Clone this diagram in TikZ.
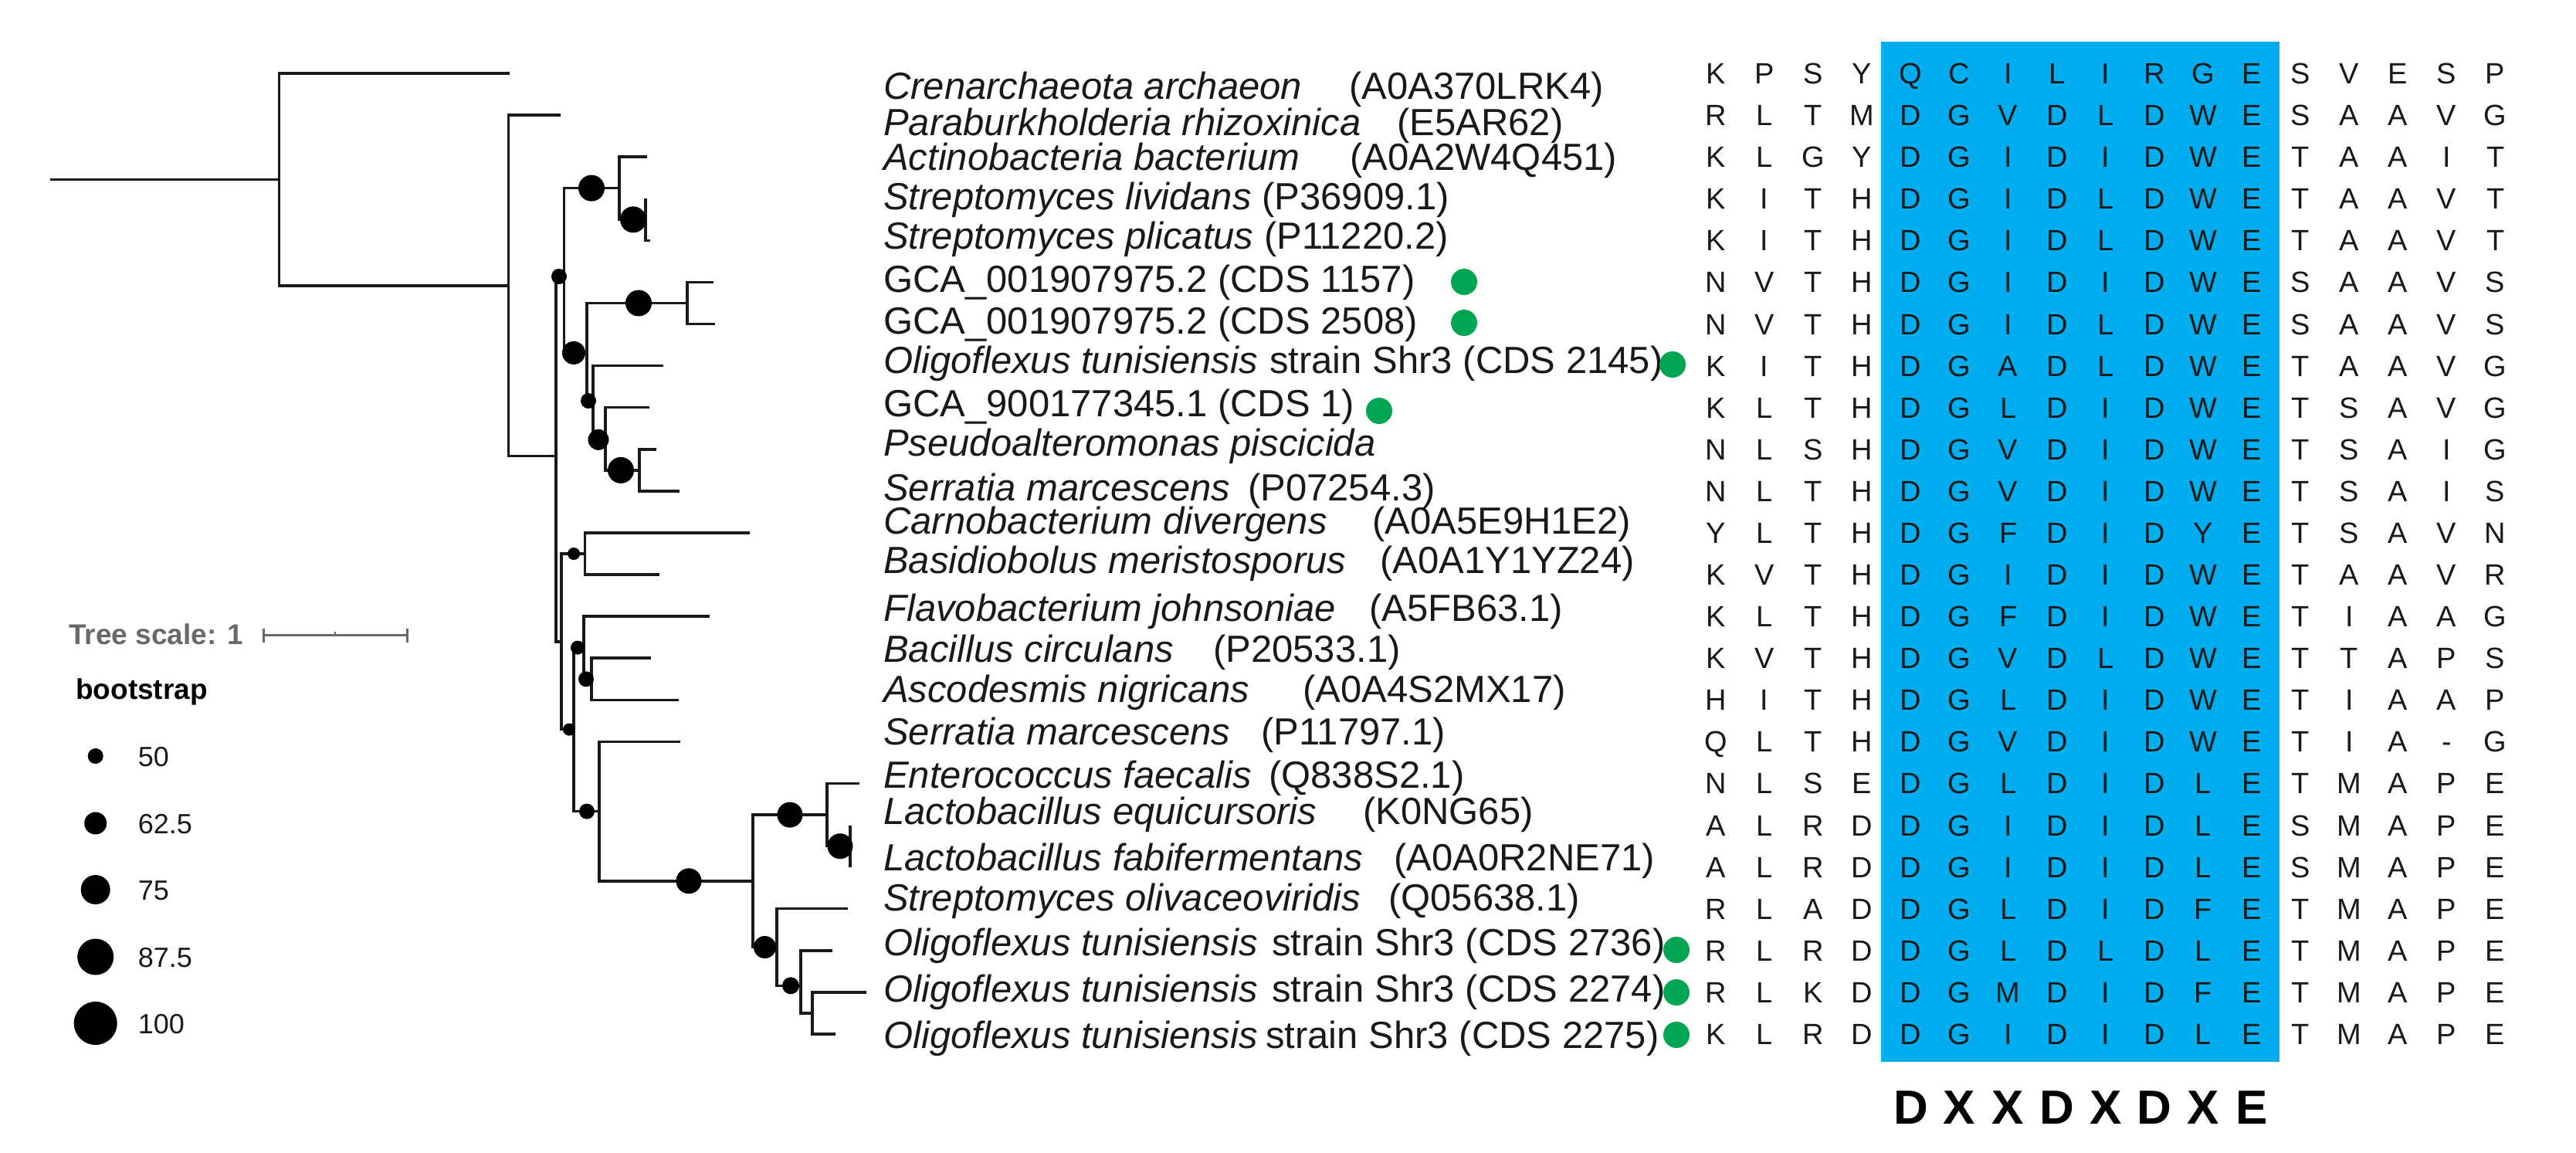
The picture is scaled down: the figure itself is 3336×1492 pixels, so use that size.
\documentclass[tikz,border=0pt]{standalone}
\usepackage{fontspec}
\setmainfont{Liberation Sans}
\definecolor{motifblue}{RGB}{0,174,239}
\definecolor{mkgreen}{RGB}{0,166,81}
\definecolor{scalegray}{RGB}{105,105,105}
\definecolor{treeblack}{RGB}{25,25,25}
\begin{document}
\begin{tikzpicture}[x=1pt,y=-1pt,
  tree/.style={draw=treeblack,line width=3.5pt},
  lab/.style={anchor=base west,inner sep=0pt,font=\fontsize{49}{55}\selectfont,text=treeblack},
  aa/.style={anchor=base,inner sep=0pt,font=\fontsize{38}{44}\selectfont,text=treeblack},
  motif/.style={anchor=base,inner sep=0pt,font=\fontsize{62}{66}\selectfont\bfseries,text=black},
  bs/.style={circle,fill=black,inner sep=0pt,draw=none},
  gdot/.style={circle,fill=mkgreen,inner sep=0pt,draw=none,minimum size=34pt},
  leg/.style={anchor=base west,inner sep=0pt,font=\fontsize{36}{40}\selectfont,text=treeblack}]
\useasboundingbox (0,0) rectangle (3336,1492);
\fill[white] (0,0) rectangle (3336,1492);

% ---------------- blue motif block
\fill[motifblue] (2436,54) rectangle (2952,1375);

% ---------------- tree coordinates (leaves)
\coordinate (L1) at (660,95);
\coordinate (L2) at (726,149.1);
\coordinate (L3) at (838,203.2);
\coordinate (L4) at (836,257.3);
\coordinate (L5) at (842,311.3);
\coordinate (L6) at (924,365.4);
\coordinate (L7) at (926,419.5);
\coordinate (L8) at (859,473.6);
\coordinate (L9) at (841,527.7);
\coordinate (L10) at (850,581.8);
\coordinate (L11) at (880,635.9);
\coordinate (L12) at (971,690.0);
\coordinate (L13) at (854,744.0);
\coordinate (L14) at (919,798.1);
\coordinate (L15) at (843,852.2);
\coordinate (L16) at (879,906.3);
\coordinate (L17) at (881,960.4);
\coordinate (L18) at (1113,1014.5);
\coordinate (L19) at (1101,1068.6);
\coordinate (L20) at (1101,1122.7);
\coordinate (L21) at (1098,1176.7);
\coordinate (L22) at (1078,1230.8);
\coordinate (L23) at (1122,1284.9);
\coordinate (L24) at (1082,1339.0);
% internal nodes
\coordinate (root) at (64.5,232.4);
\coordinate (R) at (361.6,232.4);
\coordinate (N1) at (658.6,369.8);
\coordinate (N2) at (720,590.5);
\coordinate (N3) at (730.7,350.3);
\coordinate (N5) at (802,243.6);
\coordinate (N7) at (836,284.3);
\coordinate (N6) at (760,456.9);
\coordinate (N8) at (890,392.5);
\coordinate (N9) at (768,521.4);
\coordinate (N10) at (784,569.3);
\coordinate (N11) at (828,608.9);
\coordinate (N4) at (727,830.8);
\coordinate (N12) at (757.5,717.0);
\coordinate (N13) at (743,944.6);
\coordinate (N14) at (756,838.6);
\coordinate (N16) at (766,879.3);
\coordinate (N15) at (776,1050.6);
\coordinate (N17) at (975,1140.8);
\coordinate (N18) at (1071,1055.1);
\coordinate (N20) at (1101,1095.7);
\coordinate (N19) at (1006,1226.5);
\coordinate (N21) at (1037,1276.3);
\coordinate (N22) at (1052,1312.0);

% ---------------- tree branches
\draw[tree] (root) -- (R);
\foreach \p/\c in {R/L1,R/N1,N1/L2,N1/N2,N2/N3,N2/N4,N3/N5,N3/N6,N5/L3,N5/N7,
  N7/L4,N7/L5,N6/N8,N6/N9,N8/L6,N8/L7,N9/L8,N9/N10,N10/L9,N10/N11,N11/L10,N11/L11,
  N4/N12,N4/N13,N12/L12,N12/L13,N13/N14,N13/N15,N14/L14,N14/N16,N16/L15,N16/L16,
  N15/L17,N15/N17,N17/N18,N17/N19,N18/L18,N18/N20,N20/L19,N20/L20,N19/L21,N19/N21,
  N21/L22,N21/N22,N22/L23,N22/L24}
  \draw[tree] (\p) |- (\c);

% ---------------- bootstrap dots
\node[bs,minimum size=20pt] (b3) at (724,358) {};
\node[bs,minimum size=34pt] (b5) at (766,243.6) {};
\node[bs,minimum size=34pt] (b7) at (820,284.3) {};
\node[bs,minimum size=30pt] (b6) at (743,456.9) {};
\node[bs,minimum size=34pt] (b8) at (827,392.5) {};
\node[bs,minimum size=20pt] (b9) at (762,519) {};
\node[bs,minimum size=27pt] (b10) at (775,569.3) {};
\node[bs,minimum size=34pt] (b11) at (804,608.9) {};
\node[bs,minimum size=16pt] (b12) at (743,717.0) {};
\node[bs,minimum size=16pt] (b13) at (737,944.6) {};
\node[bs,minimum size=18pt] (b14) at (748,838.6) {};
\node[bs,minimum size=20pt] (b16) at (759,879.3) {};
\node[bs,minimum size=20pt] (b15) at (760,1050.6) {};
\node[bs,minimum size=33pt] (b17) at (892,1140.8) {};
\node[bs,minimum size=33pt] (b18) at (1023,1055.1) {};
\node[bs,minimum size=33pt] (b20) at (1088,1095.7) {};
\node[bs,minimum size=29pt] (b19) at (990.5,1226.5) {};
\node[bs,minimum size=22pt] (b21) at (1024,1276.3) {};

% ---------------- legend
\node[anchor=base west,inner sep=0pt,font=\fontsize{37}{40}\selectfont\bfseries,text=scalegray] (ts) at (89,834) {Tree scale: 1};
\coordinate (sb1) at (341.5,822.8);
\coordinate (sb2) at (527,822.8);
\coordinate (sbm) at (434,822.8);
\draw[scalegray,line width=3pt] (sb1) -- (sb2);
\draw[scalegray,line width=3pt] ([yshift=-9pt]sb1) -- ([yshift=9pt]sb1);
\draw[scalegray,line width=3pt] ([yshift=-9pt]sb2) -- ([yshift=9pt]sb2);
\draw[scalegray,line width=2pt] (sbm) -- ([yshift=5pt]sbm);
\node[anchor=base west,inner sep=0pt,font=\fontsize{37}{40}\selectfont\bfseries,text=black] (bt) at (98,905) {bootstrap};
\node[bs,minimum size=20pt] (lg1) at (123.7,979) {};
\node[bs,minimum size=29pt] (lg2) at (123.7,1066) {};
\node[bs,minimum size=38pt] (lg3) at (123.7,1152) {};
\node[bs,minimum size=47pt] (lg4) at (123.7,1239) {};
\node[bs,minimum size=56pt] (lg5) at (123.7,1325) {};
\node[leg] (lt1) at (178.6,992) {50};
\node[leg] (lt2) at (178.6,1079.5) {62.5};
\node[leg] (lt3) at (178.6,1165.6) {75};
\node[leg] (lt4) at (178.6,1252) {87.5};
\node[leg] (lt5) at (178.6,1338) {100};

% ---------------- taxon labels
\node[lab] (t1) at (1144,128) {\textit{Crenarchaeota archaeon}};
\node[lab] (c1) at (1747,128) {(A0A370LRK4)};
\node[lab] (t2) at (1144,175) {\textit{Paraburkholderia rhizoxinica}};
\node[lab] (c2) at (1809,175) {(E5AR62)};
\node[lab] (t3) at (1144,220) {\textit{Actinobacteria bacterium}};
\node[lab] (c3) at (1748,220) {(A0A2W4Q451)};
\node[lab] (t4) at (1144,271) {\textit{Streptomyces lividans} (P36909.1)};
\node[lab] (t5) at (1144,322) {\textit{Streptomyces plicatus} (P11220.2)};
\node[lab] (t6) at (1144,378) {GCA\_001907975.2 (CDS 1157)};
\node[lab] (t7) at (1144,432) {GCA\_001907975.2 (CDS 2508)};
\node[lab] (t8) at (1144,483) {\textit{Oligoflexus tunisiensis}};
\node[lab] (c8) at (1644,483) {strain Shr3 (CDS 2145)};
\node[lab] (t9) at (1144,539) {GCA\_900177345.1 (CDS 1)};
\node[lab] (t10) at (1144,590) {\textit{Pseudoalteromonas piscicida}};
\node[lab] (t11) at (1144,648) {\textit{Serratia marcescens}};
\node[lab] (c11) at (1616,648) {(P07254.3)};
\node[lab] (t12) at (1144,691) {\textit{Carnobacterium divergens}};
\node[lab] (c12) at (1777,691) {(A0A5E9H1E2)};
\node[lab] (t13) at (1144,742) {\textit{Basidiobolus meristosporus}};
\node[lab] (c13) at (1787,742) {(A0A1Y1YZ24)};
\node[lab] (t14) at (1144,804) {\textit{Flavobacterium johnsoniae}};
\node[lab] (c14) at (1773,804) {(A5FB63.1)};
\node[lab] (t15) at (1144,857) {\textit{Bacillus circulans}};
\node[lab] (c15) at (1571,857) {(P20533.1)};
\node[lab] (t16) at (1144,909) {\textit{Ascodesmis nigricans}};
\node[lab] (c16) at (1687,909) {(A0A4S2MX17)};
\node[lab] (t17) at (1144,964) {\textit{Serratia marcescens}};
\node[lab] (c17) at (1633,964) {(P11797.1)};
\node[lab] (t18) at (1144,1020) {\textit{Enterococcus faecalis}};
\node[lab] (c18) at (1643,1020) {(Q838S2.1)};
\node[lab] (t19) at (1144,1067) {\textit{Lactobacillus equicursoris}};
\node[lab] (c19) at (1765,1067) {(K0NG65)};
\node[lab] (t20) at (1144,1127) {\textit{Lactobacillus fabifermentans}};
\node[lab] (c20) at (1805,1127) {(A0A0R2NE71)};
\node[lab] (t21) at (1144,1179) {\textit{Streptomyces olivaceoviridis}};
\node[lab] (c21) at (1798,1179) {(Q05638.1)};
\node[lab] (t22) at (1144,1237) {\textit{Oligoflexus tunisiensis}};
\node[lab] (c22) at (1647,1237) {strain Shr3 (CDS 2736)};
\node[lab] (t23) at (1144,1297) {\textit{Oligoflexus tunisiensis}};
\node[lab] (c23) at (1647,1297) {strain Shr3 (CDS 2274)};
\node[lab] (t24) at (1144,1357) {\textit{Oligoflexus tunisiensis}};
\node[lab] (c24) at (1639,1357) {strain Shr3 (CDS 2275)};

% green markers
\node[gdot] (g6) at (1896,365) {};
\node[gdot] (g7) at (1896,418) {};
\node[gdot] (g8) at (2166,472) {};
\node[gdot] (g9) at (1786,532) {};
\node[gdot] (g22) at (2171,1230) {};
\node[gdot] (g23) at (2171,1285) {};
\node[gdot] (g24) at (2171,1340) {};

% ---------------- alignment
\foreach \rw [count=\i] in {
 {K,P,S,Y,Q,C,I,L,I,R,G,E,S,V,E,S,P},
 {R,L,T,M,D,G,V,D,L,D,W,E,S,A,A,V,G},
 {K,L,G,Y,D,G,I,D,I,D,W,E,T,A,A,I,T},
 {K,I,T,H,D,G,I,D,L,D,W,E,T,A,A,V,T},
 {K,I,T,H,D,G,I,D,L,D,W,E,T,A,A,V,T},
 {N,V,T,H,D,G,I,D,I,D,W,E,S,A,A,V,S},
 {N,V,T,H,D,G,I,D,L,D,W,E,S,A,A,V,S},
 {K,I,T,H,D,G,A,D,L,D,W,E,T,A,A,V,G},
 {K,L,T,H,D,G,L,D,I,D,W,E,T,S,A,V,G},
 {N,L,S,H,D,G,V,D,I,D,W,E,T,S,A,I,G},
 {N,L,T,H,D,G,V,D,I,D,W,E,T,S,A,I,S},
 {Y,L,T,H,D,G,F,D,I,D,Y,E,T,S,A,V,N},
 {K,V,T,H,D,G,I,D,I,D,W,E,T,A,A,V,R},
 {K,L,T,H,D,G,F,D,I,D,W,E,T,I,A,A,G},
 {K,V,T,H,D,G,V,D,L,D,W,E,T,T,A,P,S},
 {H,I,T,H,D,G,L,D,I,D,W,E,T,I,A,A,P},
 {Q,L,T,H,D,G,V,D,I,D,W,E,T,I,A,-,G},
 {N,L,S,E,D,G,L,D,I,D,L,E,T,M,A,P,E},
 {A,L,R,D,D,G,I,D,I,D,L,E,S,M,A,P,E},
 {A,L,R,D,D,G,I,D,I,D,L,E,S,M,A,P,E},
 {R,L,A,D,D,G,L,D,I,D,F,E,T,M,A,P,E},
 {R,L,R,D,D,G,L,D,L,D,L,E,T,M,A,P,E},
 {R,L,K,D,D,G,M,D,I,D,F,E,T,M,A,P,E},
 {K,L,R,D,D,G,I,D,I,D,L,E,T,M,A,P,E}} {
  \pgfmathsetmacro\yy{95+54.087*(\i-1)+13.5}
  \foreach \ch [count=\j] in \rw {
    \pgfmathsetmacro\xx{2222+63.1*(\j-1)}
    \node[aa] (a\i-\j) at (\xx,\yy) {\ch};
  }
}

% ---------------- motif
\foreach \ch [count=\j] in {D,X,X,D,X,D,X,E} {
  \pgfmathsetmacro\xx{2222+63.1*(\j+3)}
  \node[motif] (m\j) at (\xx,1455) {\ch};
}
\end{tikzpicture}
\end{document}
